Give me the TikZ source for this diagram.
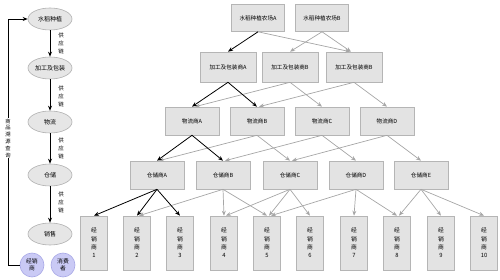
\documentclass[tikz,border=0pt]{standalone}
\usepackage{fontspec}
\setmainfont{Noto Sans CJK SC}
\usetikzlibrary{arrows.meta,shapes.geometric}
\definecolor{boxfill}{HTML}{E3E3E3}
\definecolor{boxline}{HTML}{B5B5B5}
\definecolor{garrow}{HTML}{A6A6A6}
\definecolor{ellfill}{HTML}{E6E6E6}
\definecolor{ellline}{HTML}{B0B0B0}
\definecolor{circfill}{HTML}{CACAF5}
\definecolor{circline}{HTML}{A8A8E6}
\tikzset{
  box/.style={draw=boxline, fill=boxfill, line width=0.6pt, minimum width=54pt, minimum height=28pt, inner sep=0pt, font=\fontsize{5.6}{6}\selectfont},
  pbox/.style={box, minimum width=56pt, minimum height=30pt},
  dbox/.style={box, minimum width=27pt, minimum height=54pt, align=center, font=\fontsize{5.8}{8.3}\selectfont},
  ell/.style={ellipse, draw=ellline, fill=ellfill, line width=0.6pt, minimum width=44pt, minimum height=22pt, inner sep=0pt, font=\fontsize{6}{7}\selectfont},
  circ/.style={circle, draw=circline, fill=circfill, line width=0.6pt, minimum size=24pt, inner sep=0pt, align=center, font=\fontsize{5.8}{7}\selectfont},
  vlab/.style={align=center, inner sep=0.5pt, font=\fontsize{5.5}{8}\selectfont},
  blk/.style={-{Stealth[length=5pt,width=4pt]}, line width=0.8pt, black},
  gry/.style={-{Stealth[length=5pt,width=4pt]}, line width=0.7pt, garrow},
  ln/.style={line width=0.8pt, black}
}
\begin{document}
\begin{tikzpicture}[x=1pt,y=-1pt]
\useasboundingbox (0,0) rectangle (500,280);
% left column
\node[ell] (e1) at (50,19) {水稻种植};
\node[ell] (e2) at (50,68) {加工及包装};
\node[ell] (e3) at (50,122) {物流};
\node[ell] (e4) at (50,175) {仓储};
\node[ell] (e5) at (50,234) {销售};
\draw[blk] (e1) -- (e2);
\draw[blk] (e2) -- (e3);
\draw[blk] (e3) -- (e4);
\draw[blk] (e4) -- (e5);
\node[vlab] (s1) at (61,43) {供\\应\\链};
\node[vlab] (s2) at (61,96) {供\\应\\链};
\node[vlab] (s3) at (61,148) {供\\应\\链};
\node[vlab] (s4) at (61,202) {供\\应\\链};
\node[circ] (c1) at (32,265) {经销\\商};
\node[circ] (c2) at (63,265) {消费\\者};
\coordinate (k1) at (8,265);
\coordinate (k2) at (8,19);
\draw[ln] (c1.west) -- (k1) -- (k2);
\draw[blk] (k2) -- (e1.west);
\node[vlab, fill=white, font=\fontsize{5.3}{6.8}\selectfont] (trace) at (8,138) {商\\品\\溯\\源\\查\\询};
% farms
\node[box, minimum width=53pt, minimum height=27pt] (fa) at (258,18) {水稻种植农场A};
\node[box, minimum width=53pt, minimum height=27pt] (fb) at (322,18) {水稻种植农场B};
% processors
\node[pbox] (pa) at (228,67) {加工及包装商A};
\node[pbox] (pb) at (290,67) {加工及包装商B};
\node[pbox] (pc) at (354,67) {加工及包装商B};
% logistics
\node[box] (la) at (192,121) {物流商A};
\node[box] (lb) at (257,121) {物流商B};
\node[box] (lc) at (322,121) {物流商C};
\node[box] (ld) at (387,121) {物流商D};
% warehouses
\node[box] (wa) at (157,175) {仓储商A};
\node[box] (wb) at (223,175) {仓储商B};
\node[box] (wc) at (290,175) {仓储商C};
\node[box] (wd) at (356,175) {仓储商D};
\node[box] (we) at (421,175) {仓储商E};
% dealers
\node[dbox] (d1) at (94,243) {经\\销\\商\\1};
\node[dbox] (d2) at (137,243) {经\\销\\商\\2};
\node[dbox] (d3) at (180,243) {经\\销\\商\\3};
\node[dbox] (d4) at (224,243) {经\\销\\商\\4};
\node[dbox] (d5) at (267,243) {经\\销\\商\\5};
\node[dbox] (d6) at (310,243) {经\\销\\商\\6};
\node[dbox] (d7) at (354,243) {经\\销\\商\\7};
\node[dbox] (d8) at (397,243) {经\\销\\商\\8};
\node[dbox] (d9) at (441,243) {经\\销\\商\\9};
\node[dbox] (d10) at (484,243) {经\\销\\商\\10};
% farm -> processors
\draw[gry] (fa.south) -- ([xshift=-4pt]pc.north);
\draw[gry] (fb.south) -- (pb.north);
\draw[gry] (fb.south) -- ([xshift=-3pt]pc.north);
\draw[blk] (fa.south) -- (pa.north);
% processors -> logistics
\draw[gry] (pb.south) -- ([xshift=3pt]la.north);
\draw[gry] (pb.south) -- (lc.north);
\draw[gry] (pc.south) -- ([xshift=2pt]lb.north);
\draw[gry] (pc.south) -- (ld.north);
\draw[blk] (pa.south) -- (la.north);
\draw[blk] (pa.south) -- (lb.north);
% logistics -> warehouses
\draw[gry] (lb.south) -- ([xshift=2pt]wa.north);
\draw[gry] (lb.south) -- (wc.north);
\draw[gry] (lc.south) -- ([xshift=2pt]wb.north);
\draw[gry] (lc.south) -- (wd.north);
\draw[gry] (ld.south) -- ([xshift=2pt]wc.north);
\draw[gry] (ld.south) -- (we.north);
\draw[blk] (la.south) -- (wa.north);
\draw[blk] (la.south) -- (wb.north);
% warehouses -> dealers
\draw[gry] (wb.south) -- ([xshift=2pt]d2.north);
\draw[gry] (wb.south) -- (d4.north);
\draw[gry] (wb.south) -- (d5.north);
\draw[gry] (wc.south) -- ([xshift=2pt]d4.north);
\draw[gry] (wc.south) -- ([xshift=2pt]d5.north);
\draw[gry] (wc.south) -- (d6.north);
\draw[gry] (wd.south) -- ([xshift=4pt]d5.north);
\draw[gry] (wd.south) -- (d7.north);
\draw[gry] (wd.south) -- (d8.north);
\draw[gry] (we.south) -- ([xshift=2pt]d8.north);
\draw[gry] (we.south) -- (d9.north);
\draw[gry] (we.south) -- (d10.north);
\draw[blk] (wa.south) -- (d1.north);
\draw[blk] (wa.south) -- (d2.north);
\draw[blk] (wa.south) -- (d3.north);
\end{tikzpicture}
\end{document}
